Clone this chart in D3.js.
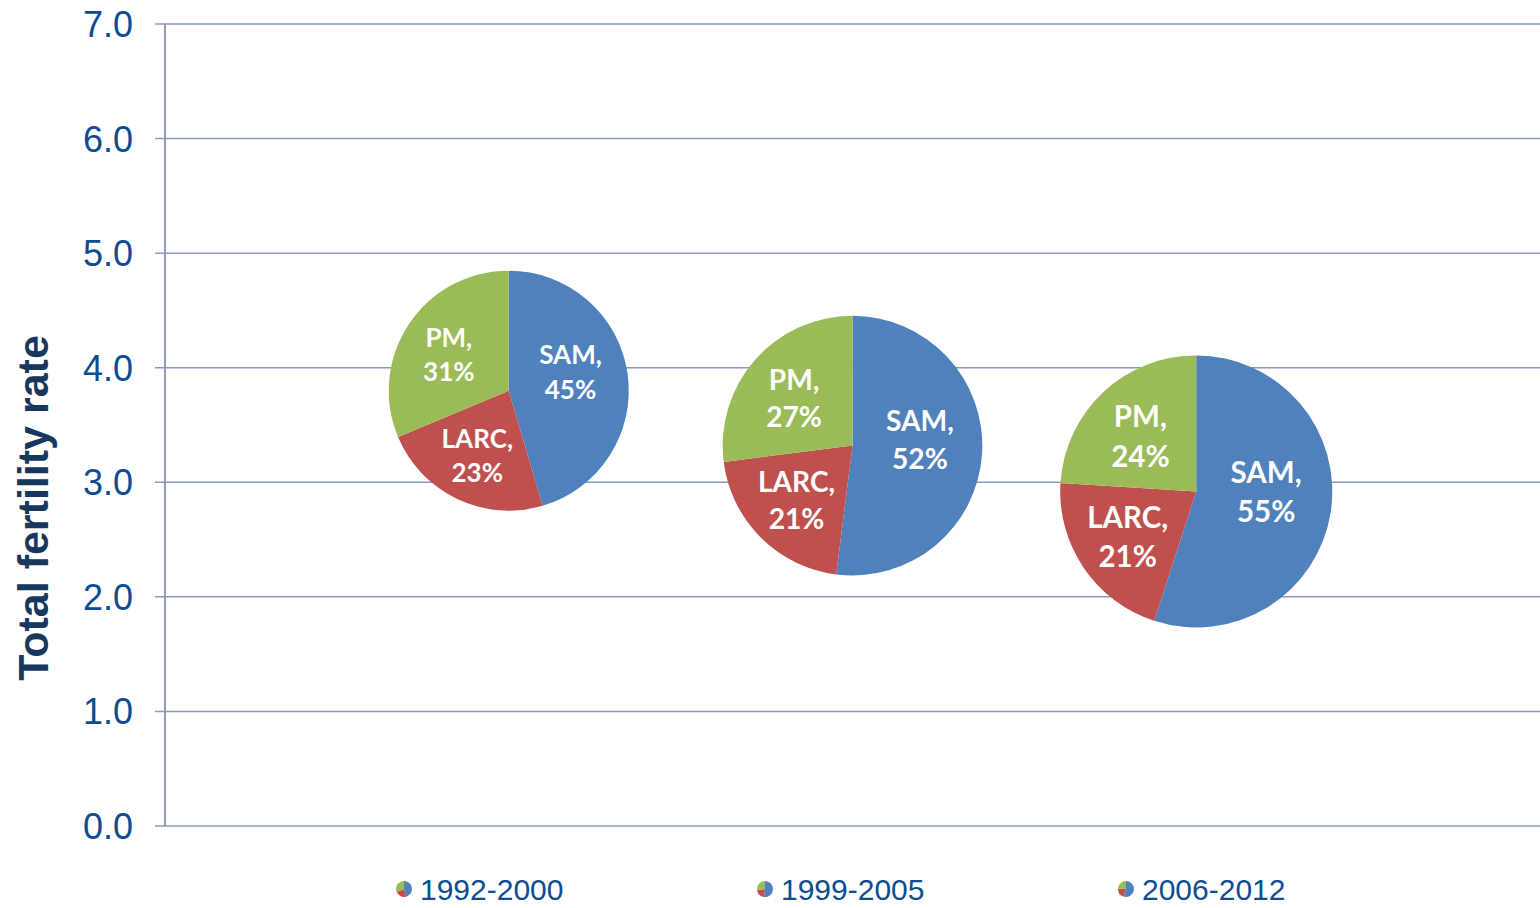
<!DOCTYPE html>
<html>
<head>
<meta charset="utf-8">
<script src="https://cdn.jsdelivr.net/npm/d3@7"></script>
<style>
  html, body { margin: 0; padding: 0; background: #fff; }
  svg { display: block; }
</style>
</head>
<body>
<div id="chart"></div>
<script>
// Periods (legend / bubble order)
const periods = ['1992-2000', '1999-2005', '2006-2012']
// Bubble x position (category index) and total fertility rate
const xValues = [1, 2, 3]
const tfrValues = [3.80, 3.32, 2.92]
// Relative bubble size (area)
const bubbleSizes = [1.0, 1.17, 1.285]
// Method mix per period, in percent
const methods = ['SAM', 'LARC', 'PM']
const samShares = [45, 52, 55]
const larcShares = [23, 21, 21]
const pmShares = [31, 27, 24]
const yTicks = [0, 1, 2, 3, 4, 5, 6, 7]

const colors = { SAM: '#4F81BD', LARC: '#C0504D', PM: '#9BBB59' }
// label placement inside each slice (fraction of radius, vertical nudge)
const labelPos = { SAM: { k: 0.52, dy: -0.09 }, LARC: { k: 0.61, dy: -0.02 }, PM: { k: 0.6, dy: 0.02 } }

const width = 1540, height = 908
const margin = { top: 24, right: 0, bottom: 82, left: 165 }

const svg = d3.select('#chart').append('svg')
    .attr('width', width).attr('height', height)

const x = d3.scaleLinear().domain([0, 4]).range([margin.left, width - margin.right])
const y = d3.scaleLinear().domain([0, 7]).range([height - margin.bottom, margin.top])
const r = d3.scaleSqrt().domain([0, 1]).range([0, 120])

const gridColor = '#8D9ABD'

// Grid lines + ticks
svg.selectAll('.grid').data(yTicks).enter()
    .append('line')
    .attr('x1', margin.left - 10).attr('x2', width)
    .attr('y1', d => y(d)).attr('y2', d => y(d))
    .attr('stroke', gridColor).attr('stroke-width', 1.5)

// Y axis line
svg.append('line')
    .attr('x1', margin.left).attr('x2', margin.left)
    .attr('y1', y(7)).attr('y2', y(0))
    .attr('stroke', gridColor).attr('stroke-width', 2)

// Tick labels
svg.selectAll('.ytick').data(yTicks).enter()
    .append('text')
    .attr('x', 133)
    .attr('y', d => y(d))
    .attr('dy', '0.36em')
    .attr('text-anchor', 'end')
    .attr('font-family', 'Liberation Sans, Arial, sans-serif')
    .attr('font-size', '36px')
    .attr('fill', '#0D4C93')
    .text(d => d.toFixed(1))

// Y axis title
svg.append('text')
    .attr('transform', `translate(48,508) rotate(-90)`)
    .attr('text-anchor', 'middle')
    .attr('font-family', 'Liberation Sans, Arial, sans-serif')
    .attr('font-size', '43px')
    .attr('font-weight', 'bold')
    .attr('fill', '#17375E')
    .text('Total fertility rate')

const pie = d3.pie().sort(null).value(d => d.value)

const rows = periods.map((p, i) => ({
    period: p,
    x: xValues[i],
    tfr: tfrValues[i],
    size: bubbleSizes[i],
    slices: [
        { method: 'SAM', value: samShares[i] },
        { method: 'LARC', value: larcShares[i] },
        { method: 'PM', value: pmShares[i] }
    ]
}))

// Pie bubbles
rows.forEach(row => {
    const radius = r(row.size)
    const g = svg.append('g')
        .attr('transform', `translate(${x(row.x)},${y(row.tfr)})`)
    const arc = d3.arc().innerRadius(0).outerRadius(radius)
    const arcs = pie(row.slices)
    g.selectAll('path').data(arcs).enter()
        .append('path')
        .attr('d', arc)
        .attr('fill', d => colors[d.data.method])

    const fs = radius * 0.217
    const labels = g.selectAll('.lbl').data(arcs).enter()
        .append('text')
        .attr('transform', d => {
            const lp = labelPos[d.data.method]
            const c = d3.arc().innerRadius(radius * lp.k).outerRadius(radius * lp.k).centroid(d)
            return `translate(${c[0]},${c[1] + lp.dy * radius})`
        })
        .attr('text-anchor', 'middle')
        .attr('font-family', 'Lato, Open Sans, sans-serif')
        .attr('font-weight', 'bold')
        .attr('font-size', fs + 'px')
        .attr('fill', '#fff')
    labels.append('tspan').attr('x', 0).attr('dy', '-0.25em').text(d => d.data.method + ',')
    labels.append('tspan').attr('x', 0).attr('dy', '1.33em').text(d => d.data.value + '%')
})

// Legend
const legendX = d3.scaleLinear().domain([0, 2]).range([404, 1126])
const iconArc = d3.arc().innerRadius(0).outerRadius(8)
rows.forEach((row, i) => {
    const g = svg.append('g').attr('transform', `translate(${legendX(i)},889)`)
    g.selectAll('path').data(pie(row.slices)).enter()
        .append('path')
        .attr('d', iconArc)
        .attr('fill', d => colors[d.data.method])
    g.append('text')
        .attr('x', 16).attr('y', 0).attr('dy', '0.36em')
        .attr('font-family', 'Liberation Sans, Arial, sans-serif')
        .attr('font-size', '30px')
        .attr('fill', '#0D4C93')
        .text(row.period)
})
</script>
</body>
</html>
